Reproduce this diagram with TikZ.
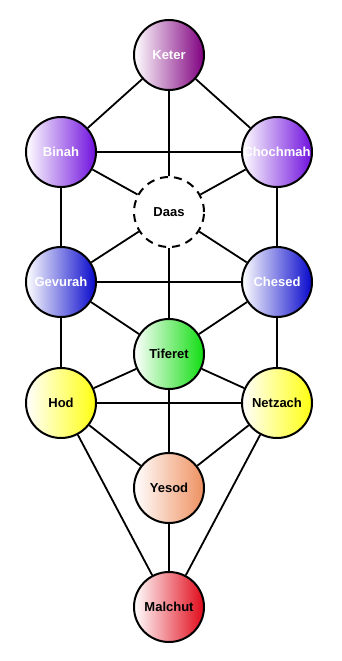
\documentclass[tikz,border=0pt]{standalone}
\usepackage{fontspec}
\setmainfont{Liberation Sans}
\usepackage{tikz}
\usetikzlibrary{positioning}
\usepackage{xcolor}
\definecolor{ketercol}{HTML}{800080}
\definecolor{binahcol}{HTML}{7010DD}
\definecolor{gevurahcol}{HTML}{0808CC}
\definecolor{tiferetcol}{HTML}{10DD10}
\definecolor{hodcol}{HTML}{FFFF10}
\definecolor{yesodcol}{HTML}{EE9060}
\definecolor{malchutcol}{HTML}{E00818}

\begin{document}
\begin{tikzpicture}[x=1pt, y=-1pt,
  sef/.style={circle, draw, line width=2pt, minimum size=70pt, inner sep=0pt,
    font=\fontsize{13}{15}\selectfont\bfseries, left color=white},
  lite/.style={sef, text=white},
  hidden/.style={circle, draw, dashed, dash pattern=on 8pt off 6pt, line width=2pt,
    minimum size=70pt, inner sep=0pt, fill=white, font=\fontsize{13}{15}\selectfont\bfseries},
  link/.style={line width=1.8pt}]
\useasboundingbox (0,0) rectangle (341,661);
% the sefirot
\node[lite, right color=ketercol] (keter) at (169,55) {Keter};
\node[lite, right color=binahcol] (binah) at (61,152) {Binah};
\node[lite, right color=binahcol] (chochmah) at (277,152) {Chochmah};
\node[hidden] (daas) at (169,212) {Daas};
\node[lite, right color=gevurahcol] (gevurah) at (61,282) {Gevurah};
\node[lite, right color=gevurahcol] (chesed) at (277,282) {Chesed};
\node[sef, right color=tiferetcol] (tiferet) at (169,354) {Tiferet};
\node[sef, right color=hodcol] (hod) at (61,403) {Hod};
\node[sef, right color=hodcol] (netzach) at (277,403) {Netzach};
\node[sef, right color=yesodcol] (yesod) at (169,488) {Yesod};
\node[sef, right color=malchutcol] (malchut) at (169,607) {Malchut};
% the paths
\draw[link] (keter) -- (binah) (keter) -- (chochmah) (keter) -- (daas);
\draw[link] (binah) -- (chochmah) (binah) -- (daas) (chochmah) -- (daas);
\draw[link] (binah) -- (gevurah) (chochmah) -- (chesed);
\draw[link] (daas) -- (gevurah) (daas) -- (chesed) (daas) -- (tiferet);
\draw[link] (gevurah) -- (chesed) (gevurah) -- (tiferet) (chesed) -- (tiferet);
\draw[link] (gevurah) -- (hod) (chesed) -- (netzach);
\draw[link] (tiferet) -- (hod) (tiferet) -- (netzach) (hod) -- (netzach);
\draw[link] (tiferet) -- (yesod) (hod) -- (yesod) (netzach) -- (yesod);
\draw[link] (hod) -- (malchut) (netzach) -- (malchut) (yesod) -- (malchut);
\end{tikzpicture}
\end{document}
